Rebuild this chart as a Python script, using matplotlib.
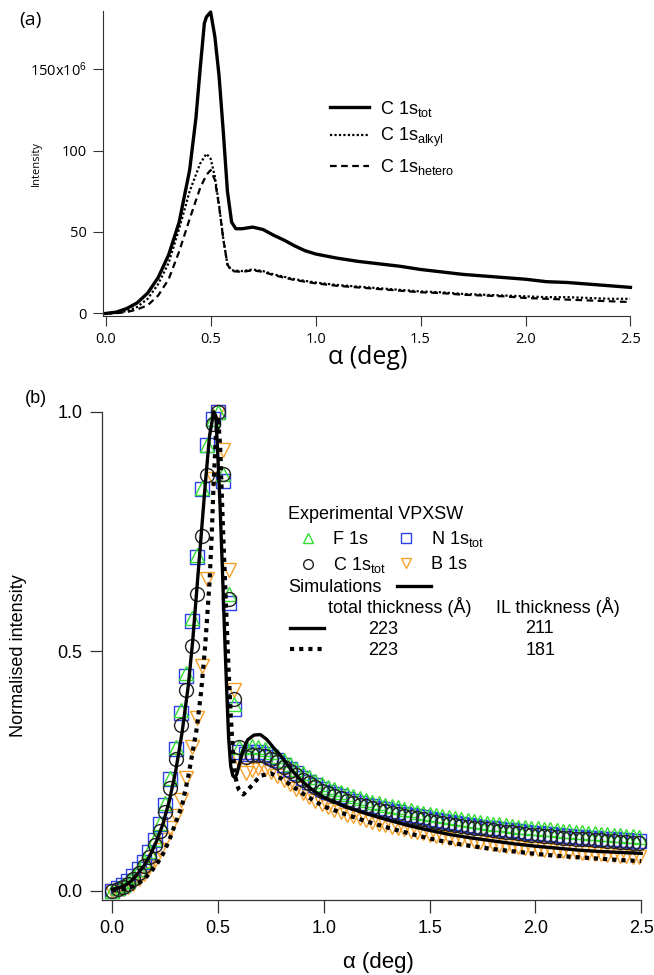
import matplotlib
matplotlib.use("Agg")
import matplotlib.pyplot as plt
from matplotlib import font_manager
from matplotlib.lines import Line2D

installed = {f.name for f in font_manager.fontManager.ttflist}
NARROW = "Liberation Sans Narrow" if "Liberation Sans Narrow" in installed else "Liberation Sans"
ROUND = "Open Sans"
HELV = "Liberation Sans"

plt.rcParams["mathtext.fontset"] = "custom"
plt.rcParams["mathtext.rm"] = HELV
plt.rcParams["mathtext.sf"] = NARROW
plt.rcParams["mathtext.it"] = ROUND

# ---------------- panel (a): intensities (x10^6) ----------------
a_x = [0.00, 0.05, 0.10, 0.15, 0.20, 0.25, 0.30, 0.35, 0.40, 0.43, 0.45, 0.47, 0.48,
       0.50, 0.52, 0.54, 0.56, 0.58, 0.60, 0.62, 0.65, 0.70, 0.75, 0.80, 0.85, 0.90,
       0.95, 1.00, 1.10, 1.20, 1.30, 1.40, 1.50, 1.60, 1.70, 1.80, 1.90, 2.00, 2.10,
       2.20, 2.30, 2.40, 2.50]
c1s_tot = [0.0, 0.8, 3.0, 6.5, 12.5, 22, 36, 56, 88, 120, 150, 178, 182,
           185, 170, 146, 112, 75, 56, 52, 52, 53, 51.5, 48, 45, 41.5,
           38.5, 36.5, 34, 32, 30.5, 29, 27, 25.5, 24, 23, 22, 21, 19.5,
           19, 18, 17, 16]

a_x2 = [0.00, 0.05, 0.10, 0.15, 0.20, 0.25, 0.30, 0.35, 0.40, 0.45, 0.48, 0.50, 0.52,
        0.54, 0.56, 0.58, 0.60, 0.65, 0.70, 0.75, 0.80, 0.90, 1.00, 1.10, 1.20, 1.30,
        1.40, 1.50, 1.60, 1.70, 1.80, 1.90, 2.00, 2.10, 2.20, 2.30, 2.40, 2.50]
c1s_alkyl = [0, 0.3, 1.5, 4, 9, 18, 31, 52, 75, 92, 98, 95, 84,
             67, 46, 30, 26.5, 26, 27, 26, 24, 21, 19, 17.5, 16.5, 15.5,
             14.5, 13.5, 13, 12, 11.5, 11, 10.5, 10, 10, 9.5, 9, 9]
c1s_hetero = [0, 0.2, 0.8, 2.5, 5, 11, 21, 38, 58, 77, 85, 88, 82,
              66, 46, 30, 26, 25.5, 26.5, 25.5, 23.5, 20.5, 18.5, 17, 16, 15,
              14, 13, 12.5, 11.5, 11, 10.5, 9.5, 9, 8.5, 8, 7.5, 7]

# ---------------- panel (b): normalised VPXSW ----------------
b_x = [0.000, 0.025, 0.050, 0.075, 0.100, 0.125, 0.150, 0.175, 0.200, 0.225,
       0.250, 0.275, 0.300, 0.325, 0.350, 0.375, 0.400, 0.425, 0.450, 0.475,
       0.500, 0.525, 0.550, 0.575, 0.600,
       0.63, 0.66, 0.69, 0.72, 0.75, 0.78, 0.81, 0.84, 0.87, 0.90, 0.93, 0.96, 0.99,
       1.02, 1.05, 1.08, 1.11, 1.14, 1.17, 1.20, 1.23, 1.26, 1.29, 1.32, 1.35, 1.38,
       1.41, 1.44, 1.47, 1.50, 1.53, 1.56, 1.59, 1.62, 1.65, 1.68, 1.71, 1.74, 1.77,
       1.80, 1.83, 1.86, 1.89, 1.92, 1.95, 1.98, 2.01, 2.04, 2.07, 2.10, 2.13, 2.16,
       2.19, 2.22, 2.25, 2.28, 2.31, 2.34, 2.37, 2.40, 2.43, 2.46, 2.49]

f1s = [0.0, 0.006, 0.012, 0.02, 0.03, 0.045, 0.062, 0.082, 0.108, 0.142,
       0.183, 0.236, 0.30, 0.377, 0.455, 0.57, 0.70, 0.84, 0.93, 0.985,
       1.0, 0.87, 0.62, 0.39, 0.30,
       .300, .302, .300, .296, .290, .282, .273, .264, .255, .246, .238, .230, .223,
       .217, .212, .207, .202, .198, .194, .190, .186, .183, .180, .177, .174, .171,
       .168, .165, .163, .160, .158, .156, .154, .152, .150, .148, .146, .144, .142,
       .140, .139, .137, .136, .134, .133, .131, .130, .129, .128, .126, .125, .124,
       .123, .122, .121, .120, .119, .118, .117, .116, .115, .114, .113]
n1s = [0.0, 0.005, 0.012, 0.02, 0.03, 0.045, 0.06, 0.08, 0.105, 0.14,
       0.18, 0.233, 0.296, 0.372, 0.448, 0.563, 0.697, 0.838, 0.93, 0.985,
       1.0, 0.855, 0.60, 0.38, 0.29,
       .285, .290, .290, .286, .280, .272, .263, .254, .245, .236, .228, .220, .213,
       .207, .202, .197, .192, .188, .184, .180, .176, .173, .170, .167, .164, .161,
       .158, .155, .153, .150, .148, .146, .144, .142, .140, .138, .136, .134, .132,
       .130, .129, .127, .126, .124, .123, .121, .120, .119, .118, .116, .115, .114,
       .113, .112, .111, .110, .109, .108, .107, .106, .105, .104, .103]
c1s = [0.0, 0.003, 0.008, 0.015, 0.025, 0.037, 0.052, 0.07, 0.095, 0.125,
       0.165, 0.215, 0.275, 0.345, 0.42, 0.51, 0.62, 0.74, 0.867, 0.974,
       1.0, 0.87, 0.61, 0.40, 0.30,
       .280, .283, .284, .281, .276, .268, .259, .250, .241, .232, .224, .216, .209,
       .203, .198, .193, .188, .184, .180, .176, .172, .169, .166, .163, .160, .157,
       .154, .151, .149, .146, .144, .142, .140, .138, .136, .134, .132, .130, .128,
       .126, .125, .123, .122, .120, .119, .117, .116, .115, .114, .112, .111, .110,
       .109, .108, .107, .106, .105, .104, .103, .102, .101, .100, .099]
b1s = [0.0, 0.0, 0.003, 0.008, 0.015, 0.025, 0.035, 0.05, 0.065, 0.085,
       0.105, 0.13, 0.155, 0.19, 0.235, 0.30, 0.36, 0.47, 0.65, 0.86,
       1.0, 0.92, 0.67, 0.42, 0.27,
       .245, .252, .256, .254, .248, .240, .231, .222, .213, .204, .196, .188, .181,
       .175, .169, .164, .159, .155, .151, .147, .143, .140, .137, .134, .131, .128,
       .125, .122, .120, .117, .115, .113, .111, .109, .107, .105, .103, .101, .099,
       .097, .096, .094, .093, .091, .090, .088, .087, .086, .085, .083, .082, .081,
       .080, .079, .078, .077, .076, .075, .074, .073, .072, .071, .070]

sim_x1 = [0.00, 0.03, 0.06, 0.09, 0.12, 0.15, 0.18, 0.21, 0.24, 0.27, 0.30, 0.33,
          0.36, 0.38, 0.40, 0.42, 0.44, 0.46, 0.48, 0.49, 0.50, 0.51, 0.52, 0.53,
          0.54, 0.55, 0.56, 0.57, 0.58, 0.59, 0.60, 0.62, 0.64, 0.67, 0.70, 0.73,
          0.76, 0.80, 0.84, 0.88, 0.92, 0.96, 1.00, 1.10, 1.20, 1.30, 1.40, 1.50,
          1.60, 1.70, 1.80, 1.90, 2.00, 2.10, 2.20, 2.30, 2.40, 2.50]
sim_211 = [0.003, 0.006, 0.011, 0.02, 0.035, 0.052, 0.075, 0.104, 0.14, 0.188, 0.25, 0.33,
           0.43, 0.52, 0.63, 0.74, 0.85, 0.95, 1.0, 0.99, 0.90, 0.80, 0.68, 0.55,
           0.43, 0.32, 0.26, 0.24, 0.236, 0.245, 0.263, 0.295, 0.315, 0.325, 0.326, 0.316,
           0.30, 0.28, 0.256, 0.236, 0.22, 0.206, 0.195, 0.176, 0.161, 0.148, 0.136, 0.126,
           0.117, 0.110, 0.104, 0.098, 0.093, 0.089, 0.085, 0.082, 0.080, 0.078]

sim_x2 = [0.00, 0.03, 0.06, 0.09, 0.12, 0.15, 0.18, 0.21, 0.24, 0.27, 0.30, 0.33,
          0.36, 0.38, 0.40, 0.42, 0.44, 0.46, 0.47, 0.48, 0.49, 0.50, 0.51, 0.52,
          0.53, 0.54, 0.55, 0.56, 0.57, 0.58, 0.59, 0.60, 0.62, 0.65, 0.70, 0.75,
          0.80, 0.85, 0.90, 0.95, 1.00, 1.10, 1.20, 1.30, 1.40, 1.50, 1.60, 1.70,
          1.80, 1.90, 2.00, 2.10, 2.20, 2.30, 2.40, 2.50]
sim_181 = [0.0, 0.002, 0.004, 0.008, 0.014, 0.024, 0.038, 0.055, 0.077, 0.106, 0.142, 0.178,
           0.24, 0.29, 0.34, 0.415, 0.515, 0.645, 0.74, 0.86, 0.95, 0.99, 0.93, 0.80,
           0.68, 0.57, 0.46, 0.37, 0.29, 0.245, 0.22, 0.21, 0.201, 0.215, 0.24, 0.245,
           0.234, 0.219, 0.203, 0.189, 0.176, 0.160, 0.145, 0.132, 0.120, 0.109, 0.100, 0.093,
           0.087, 0.082, 0.077, 0.073, 0.070, 0.067, 0.064, 0.062]

GREEN = "#33dd33"
BLUE = "#2a3fe6"
ORANGE = "#f5a02a"
AXC = "#333333"

fig = plt.figure(figsize=(6.54, 9.75), dpi=100)

# ---------- (a) ----------
axa = fig.add_axes([0.157, 0.676, 0.807, 0.313])
axa.plot(a_x, c1s_tot, color="black", lw=2.4, clip_on=False,
         label=r"C 1s$_{\mathsf{tot}}$")
axa.plot(a_x2, c1s_alkyl, color="black", lw=1.6, ls=(0, (1, 1)),
         label=r"C 1s$_{\mathsf{alkyl}}$")
axa.plot(a_x2, c1s_hetero, color="black", lw=1.6, ls=(0, (3, 2)),
         label=r"C 1s$_{\mathsf{hetero}}$")
axa.set_xlim(-0.0143, 2.5)
axa.set_ylim(-1.5, 185.8)
axa.set_xticks([0, 0.5, 1.0, 1.5, 2.0, 2.5])
axa.set_xticklabels(["0.0", "0.5", "1.0", "1.5", "2.0", "2.5"])
axa.set_yticks([0, 50, 100, 150])
axa.set_yticklabels(["0", "50", "100", r"150x10$^{\mathit{6}}$"])
axa.tick_params(direction="out", length=7.5, width=0.8, color=AXC,
                labelsize=10.5, pad=4, labelfontfamily=ROUND)
for s in ["top", "right"]:
    axa.spines[s].set_visible(False)
for s in ["left", "bottom"]:
    axa.spines[s].set_color(AXC)
    axa.spines[s].set_linewidth(0.8)
axa.set_xlabel(r"α (deg)", fontsize=18, family=ROUND)
axa.xaxis.set_label_coords(0.502, -0.095)
axa.set_ylabel("Intensity", fontsize=8, family=ROUND)
axa.yaxis.set_label_coords(-0.115, 0.5)
axa.legend(loc="upper left", bbox_to_anchor=(0.43, 0.712), frameon=False,
           prop={"family": NARROW, "size": 13}, handlelength=2.2,
           handletextpad=0.6, labelspacing=0.42, borderpad=0, borderaxespad=0)
fig.text(0.030, 0.980, "(a)", fontsize=14, family=ROUND, va="center")

# ---------- (b) ----------
axb = fig.add_axes([0.1564, 0.0766, 0.824, 0.5011])
mk = dict(ls="none", mfc="none", ms=10, mew=1.0, clip_on=False)
axb.plot(b_x, b1s, marker="v", mec=ORANGE, **mk)
axb.plot(b_x, n1s, marker="s", mec=BLUE, **mk)
axb.plot(b_x, f1s, marker="^", mec=GREEN, **mk)
axb.plot(b_x, c1s, marker="o", mec="#222222", **mk)
l211, = axb.plot(sim_x1, sim_211, color="black", lw=2.4, clip_on=False)
l181, = axb.plot(sim_x2, sim_181, color="black", lw=3.0, ls=(0, (1, 1.2)), clip_on=False)

axb.set_xlim(-0.047, 2.5)
axb.set_ylim(-0.02, 1.0)
axb.set_xticks([0, 0.5, 1.0, 1.5, 2.0, 2.5])
axb.set_xticklabels(["0.0", "0.5", "1.0", "1.5", "2.0", "2.5"])
axb.set_yticks([0, 0.5, 1.0])
axb.set_yticklabels(["0.0", "0.5", "1.0"])
axb.tick_params(direction="out", length=9, width=0.9, color=AXC,
                labelsize=13, pad=5.5, labelfontfamily=HELV)
for s in ["top", "right"]:
    axb.spines[s].set_visible(False)
for s in ["left", "bottom"]:
    axb.spines[s].set_color(AXC)
    axb.spines[s].set_linewidth(0.9)
axb.set_xlabel("α (deg)", fontsize=16, family=HELV)
axb.xaxis.set_label_coords(0.513, -0.106)
axb.set_ylabel("Normalised intensity", fontsize=13, family=HELV)
axb.yaxis.set_label_coords(-0.14, 0.5)
fig.text(0.038, 0.591, "(b)", fontsize=13, family=HELV, va="center")

lk = dict(ls="none", mfc="none", ms=7, mew=1.0)
hF = Line2D([], [], marker="^", mec=GREEN, **lk)
hN = Line2D([], [], marker="s", mec=BLUE, **lk)
hC = Line2D([], [], marker="o", mec="#222222", **lk)
hB = Line2D([], [], marker="v", mec=ORANGE, **lk)
leg1 = axb.legend([hF, hC, hN, hB],
                  ["F 1s", r"C 1s$_{\mathrm{tot}}$", r"N 1s$_{\mathrm{tot}}$", "B 1s"],
                  ncol=2, loc="upper left", bbox_to_anchor=(0.345, 0.808),
                  frameon=False, title="Experimental VPXSW", alignment="left",
                  prop={"family": HELV, "size": 13},
                  title_fontproperties={"family": HELV, "size": 13},
                  handlelength=2.17, handletextpad=0.3, columnspacing=0.0,
                  labelspacing=0.38, borderpad=0, borderaxespad=0)
axb.add_artist(leg1)
leg2 = axb.legend([l211], ["Simulations"], loc="upper left",
                  bbox_to_anchor=(0.345, 0.658), frameon=False, markerfirst=False,
                  prop={"family": HELV, "size": 13}, handlelength=1.85,
                  handletextpad=0.87, borderpad=0, borderaxespad=0)
axb.add_artist(leg2)
axb.legend([l211, l181], ["223", "223"], loc="upper left",
           bbox_to_anchor=(0.3475, 0.571), frameon=False,
           prop={"family": HELV, "size": 13}, handlelength=1.93,
           handletextpad=2.43, labelspacing=0.22, borderpad=0, borderaxespad=0)
tk = dict(transform=axb.transAxes, fontsize=13, family=HELV, va="center")
axb.text(0.419, 0.600, "total thickness (Å)", **tk)
axb.text(0.731, 0.600, "IL thickness (Å)", **tk)
axb.text(0.785, 0.557, "211", **tk)
axb.text(0.785, 0.512, "181", **tk)

fig.savefig("out.png", dpi=100)
